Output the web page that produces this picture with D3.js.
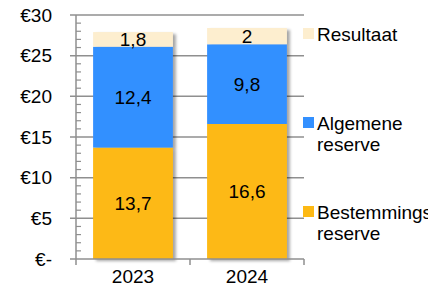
<!DOCTYPE html>
<html><head><meta charset="utf-8">
<script src="https://cdn.jsdelivr.net/npm/d3@7"></script>
<style>html,body{margin:0;padding:0;background:#fff;overflow:hidden}svg{display:block;font-family:"Liberation Sans",Arial,sans-serif}</style>
</head><body>
<svg id="c" width="428" height="286"></svg>
<script>
const categories = ["2023", "2024"];
const bestemmings = [13.7, 16.6];
const algemene = [12.4, 9.8];
const resultaat = [1.8, 2];
const legendLines = [["Resultaat"], ["Algemene", "reserve"], ["Bestemmings", "reserve"]];
const yTicks = [0, 5, 10, 15, 20, 25, 30];
const yTickLabels = ["€-", "€5", "€10", "€15", "€20", "€25", "€30"];

(function(){
const colors = ["#FDB913", "#3390FF", "#FDEECF"];
const svg = d3.select("#c");
const L = 76, R = 304, T = 15, B = 259;
const x = d3.scaleBand().domain(categories).range([L, R]).paddingInner(0.3).paddingOuter(0.15);
const xOuter = d3.scaleBand().domain(categories).range([L, R]);
const y = d3.scaleLinear().domain([0, 30]).range([B, T]);

const defs = svg.append("defs");
const f = defs.append("filter").attr("id", "sh").attr("x", "-10%").attr("y", "-10%").attr("width", "130%").attr("height", "130%");
f.append("feDropShadow").attr("dx", 3).attr("dy", 2).attr("stdDeviation", 1.8).attr("flood-color", "#000").attr("flood-opacity", 0.35);

const gridColor = "#8f8f8f";
svg.append("g").selectAll("line").data(yTicks.filter(d => d > 0)).join("line")
  .attr("x1", L - 6).attr("x2", R).attr("y1", d => y(d)).attr("y2", d => y(d))
  .attr("stroke", gridColor).attr("stroke-width", 1.5);

const table = categories.map((c, i) => ({cat: c, s0: bestemmings[i], s1: algemene[i], s2: resultaat[i]}));
const stack = d3.stack().keys(["s0", "s1", "s2"])(table);
const fmt = v => String(+v.toFixed(1)).replace(".", ",");

const barG = svg.append("g");
table.forEach((row, i) => {
  const g = barG.append("g").attr("filter", "url(#sh)");
  stack.forEach((layer, k) => {
    const d = layer[i];
    g.append("rect").attr("x", x(row.cat)).attr("width", x.bandwidth())
      .attr("y", y(d[1])).attr("height", y(d[0]) - y(d[1])).attr("fill", colors[k]);
  });
});
table.forEach((row, i) => {
  stack.forEach((layer, k) => {
    const d = layer[i];
    svg.append("text").attr("x", x(row.cat) + x.bandwidth() / 2).attr("y", (y(d[0]) + y(d[1])) / 2)
      .attr("text-anchor", "middle").attr("dy", "0.35em").attr("font-size", 19).attr("fill", "#000")
      .text(fmt(d[1] - d[0]));
  });
});

svg.append("line").attr("x1", L).attr("x2", L).attr("y1", T).attr("y2", B).attr("stroke", gridColor).attr("stroke-width", 1.5);
svg.append("g").selectAll("line").data(d3.range(0, 31, 1).filter(v => v % 5 !== 0)).join("line")
  .attr("x1", L).attr("x2", L + 5).attr("y1", d => y(d)).attr("y2", d => y(d)).attr("stroke", gridColor).attr("stroke-width", 1.2);
svg.append("g").selectAll("text").data(yTicks).join("text")
  .attr("x", 52).attr("y", d => y(d)).attr("dy", "0.35em").attr("text-anchor", "end").attr("font-size", 19)
  .text((d, i) => yTickLabels[i]);

svg.append("line").attr("x1", L - 6).attr("x2", R).attr("y1", B).attr("y2", B).attr("stroke", gridColor).attr("stroke-width", 1.5);
svg.append("g").selectAll("line").data([0, 1, 2]).join("line")
  .attr("x1", d => L + d * xOuter.step()).attr("x2", d => L + d * xOuter.step())
  .attr("y1", B).attr("y2", B + 6).attr("stroke", gridColor).attr("stroke-width", 1.5);
svg.append("g").selectAll("text").data(categories).join("text")
  .attr("x", d => xOuter(d) + xOuter.bandwidth() / 2).attr("y", 283).attr("text-anchor", "middle").attr("font-size", 19)
  .text(d => d);

const legY = [34, 123, 212];
const legColors = [colors[2], colors[1], colors[0]];
legendLines.forEach((lines, i) => {
  svg.append("rect").attr("x", 303).attr("y", legY[i] - 6).attr("width", 11).attr("height", 11).attr("fill", legColors[i]);
  lines.forEach((t, j) => {
    svg.append("text").attr("x", 317).attr("y", legY[i] + j * 21).attr("dy", "0.35em").attr("font-size", 19).text(t);
  });
});
})();
</script>
</body></html>
